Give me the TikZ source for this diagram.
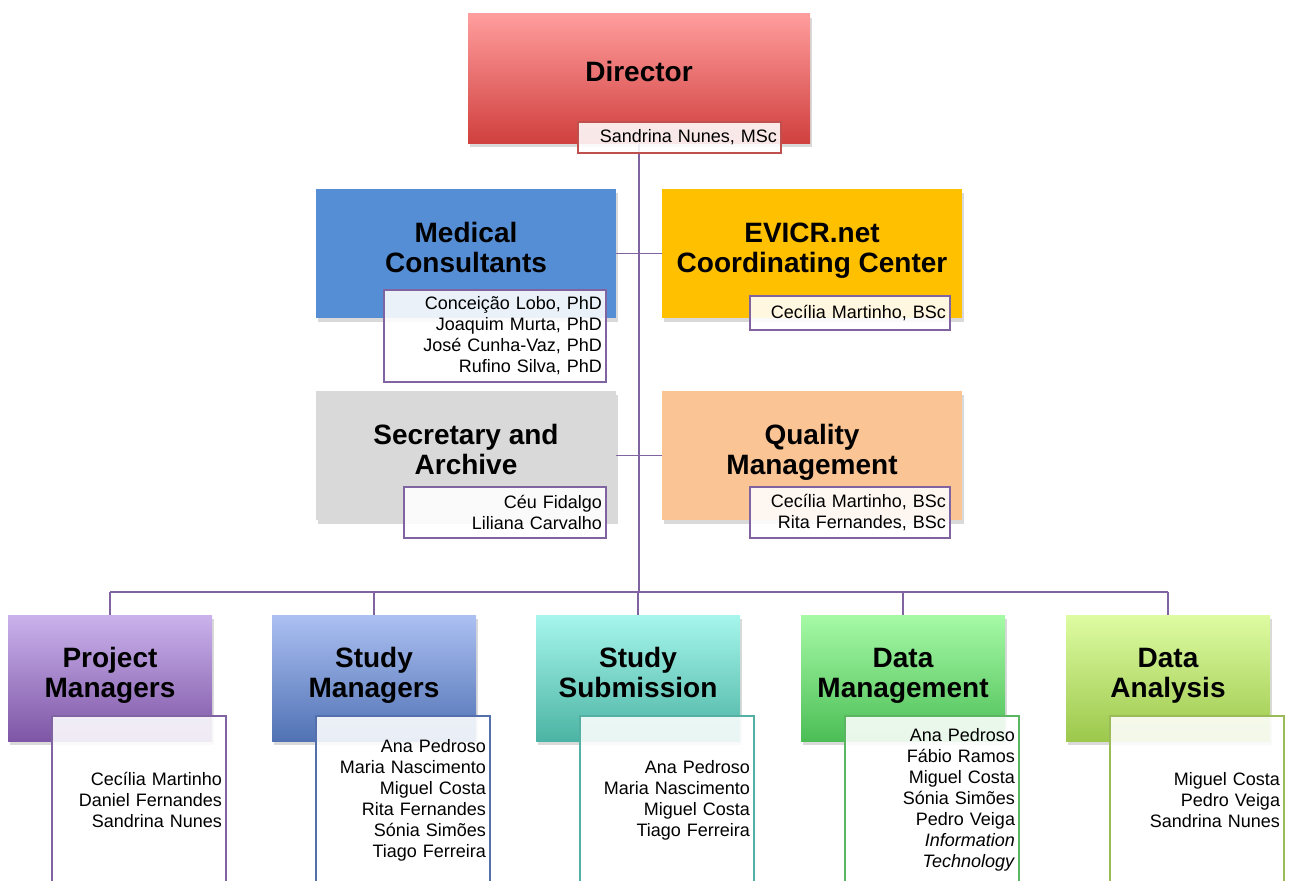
\documentclass[tikz,border=0pt]{standalone}
\usepackage{fontspec}
\setmainfont{Liberation Sans}
\usetikzlibrary{shadows,backgrounds}

\definecolor{linkpurple}{RGB}{128,100,162}
\definecolor{dirtop}{RGB}{255,157,157}
\definecolor{dirbot}{RGB}{208,64,62}
\definecolor{dirline}{RGB}{192,80,77}
\definecolor{medblue}{RGB}{85,142,213}
\definecolor{evicrgold}{RGB}{255,192,0}
\definecolor{secgrey}{RGB}{217,217,217}
\definecolor{qualpeach}{RGB}{250,196,148}
\definecolor{pmtop}{RGB}{202,178,236}
\definecolor{pmbot}{RGB}{126,86,166}
\definecolor{smtop}{RGB}{172,192,242}
\definecolor{smbot}{RGB}{80,114,180}
\definecolor{smline}{RGB}{84,112,172}
\definecolor{sstop}{RGB}{166,246,236}
\definecolor{ssbot}{RGB}{76,180,164}
\definecolor{ssline}{RGB}{84,176,162}
\definecolor{dmtop}{RGB}{166,250,166}
\definecolor{dmbot}{RGB}{76,190,86}
\definecolor{dmline}{RGB}{90,182,96}
\definecolor{datop}{RGB}{222,252,162}
\definecolor{dabot}{RGB}{156,200,76}
\definecolor{daline}{RGB}{155,187,89}

\tikzset{
  unit/.style={rectangle, anchor=north west, inner sep=0pt, outer sep=0pt,
    drop shadow={shadow xshift=1.5pt, shadow yshift=-4pt, opacity=0.3}},
  head/.style={font=\fontsize{28}{30}\selectfont\bfseries, align=center, anchor=base, inner sep=0pt},
  staff/.style={draw=#1, line width=1.3pt, fill=white, fill opacity=0.88, text opacity=1,
    anchor=north west, inner xsep=4pt, inner ysep=0pt, outer sep=0pt, align=right,
    font=\fontsize{18}{21}\selectfont},
  link/.style={draw=linkpurple, line width=1.5pt}
}

\begin{document}
\begin{tikzpicture}[x=1pt,y=-1pt]
\useasboundingbox (0,0) rectangle (1289,880);

% director
\node[unit, top color=dirtop, bottom color=dirbot, minimum width=342pt, minimum height=129pt] (dir) at (468,14) {};
\node[head] (dir-t) at (639,82) {Director};
\node[staff=dirline, text width=195pt, minimum height=31pt] (dir-s) at (578,122) {Sandrina Nunes, MSc};

% staff units
\node[unit, fill=medblue, minimum width=300pt, minimum height=129pt] (mc) at (316,189) {};
\node[head] (mc-t) at (466,272) {Medical\\Consultants};
\node[staff=linkpurple, text width=214pt, minimum height=92pt] (mc-s) at (384,290) {Conceição Lobo, PhD\\Joaquim Murta, PhD\\José Cunha-Vaz, PhD\\Rufino Silva, PhD};

\node[unit, fill=evicrgold, minimum width=300pt, minimum height=129pt] (evicr) at (662,189) {};
\node[head] (evicr-t) at (812,272) {EVICR.net\\Coordinating Center};
\node[staff=linkpurple, text width=192pt, minimum height=34pt] (evicr-s) at (750,296) {Cecília Martinho, BSc};

\node[unit, fill=secgrey, minimum width=300pt, minimum height=129pt] (sa) at (316,391) {};
\node[head] (sa-t) at (466,474) {Secretary and\\Archive};
\node[staff=linkpurple, text width=194pt, minimum height=51pt] (sa-s) at (404,487) {Céu Fidalgo\\Liliana Carvalho};

\node[unit, fill=qualpeach, minimum width=300pt, minimum height=129pt] (qm) at (662,391) {};
\node[head] (qm-t) at (812,474) {Quality\\Management};
\node[staff=linkpurple, text width=192pt, minimum height=51pt] (qm-s) at (750,487) {Cecília Martinho, BSc\\Rita Fernandes, BSc};

% teams
\node[unit, top color=pmtop, bottom color=pmbot, minimum width=204pt, minimum height=126pt] (pm) at (8,615) {};
\node[head] (pm-t) at (110,697) {Project\\Managers};
\node[staff=linkpurple, text width=166pt, minimum height=168pt] (pm-s) at (52,716) {Cecília Martinho\\Daniel Fernandes\\Sandrina Nunes};

\node[unit, top color=smtop, bottom color=smbot, minimum width=204pt, minimum height=126pt] (sm) at (272,615) {};
\node[head] (sm-t) at (374,697) {Study\\Managers};
\node[staff=smline, text width=166pt, minimum height=168pt] (sm-s) at (316,716) {Ana Pedroso\\Maria Nascimento\\Miguel Costa\\Rita Fernandes\\Sónia Simões\\Tiago Ferreira};

\node[unit, top color=sstop, bottom color=ssbot, minimum width=204pt, minimum height=126pt] (ss) at (536,615) {};
\node[head] (ss-t) at (638,697) {Study\\Submission};
\node[staff=ssline, text width=166pt, minimum height=168pt] (ss-s) at (580,716) {Ana Pedroso\\Maria Nascimento\\Miguel Costa\\Tiago Ferreira};

\node[unit, top color=dmtop, bottom color=dmbot, minimum width=204pt, minimum height=126pt] (dm) at (801,615) {};
\node[head] (dm-t) at (903,697) {Data\\Management};
\node[staff=dmline, text width=166pt, minimum height=168pt] (dm-s) at (845,716) {Ana Pedroso\\Fábio Ramos\\Miguel Costa\\Sónia Simões\\Pedro Veiga\\\textit{Information}\\\textit{Technology}};

\node[unit, top color=datop, bottom color=dabot, minimum width=204pt, minimum height=126pt] (da) at (1066,615) {};
\node[head] (da-t) at (1168,697) {Data\\Analysis};
\node[staff=daline, text width=166pt, minimum height=168pt] (da-s) at (1110,716) {Miguel Costa\\Pedro Veiga\\Sandrina Nunes};

% connectors behind the boxes
\coordinate (bus) at (639,592);
\begin{scope}[on background layer]
\draw[link] (dir.south) -- (bus);
\draw[link] (mc.east) -- (evicr.west);
\draw[link] (sa.east) -- (qm.west);
\draw[link] (bus -| pm.north) -- (bus -| da.north);
\foreach \b in {pm,sm,ss,dm,da}
  \draw[link] (bus -| \b.north) -- (\b.north);
\end{scope}
\end{tikzpicture}
\end{document}
